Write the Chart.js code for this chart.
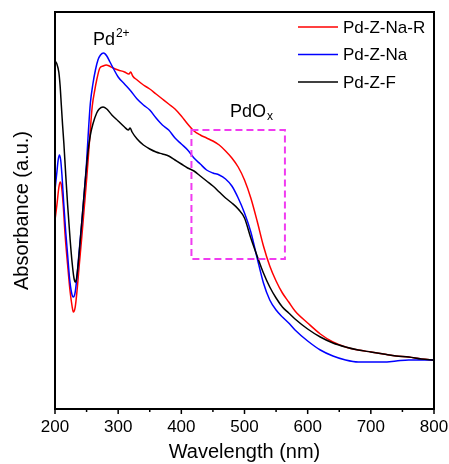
<!DOCTYPE html>
<html>
<head>
<meta charset="utf-8">
<script src="https://cdn.jsdelivr.net/npm/chart.js@4.4.0/dist/chart.umd.min.js"></script>
<style>
  html, body { margin: 0; padding: 0; background: #fff; }
  #wrap { width: 449px; height: 464px; }
</style>
</head>
<body>
<div id="wrap"><canvas id="uv"></canvas></div>
<script>
// Pd-Z-F (black)
const wlF = [200,203,206,208,210,212,214,217,220,224,227,230,232,234,237,240,244,248,252,256,260,266,270,276,282,290,300,310,316,319,322,330,340,350,360,370,380,390,400,410,420,430,440,450,460,470,480,490,500,510,520,530,540,550,560,570,580,600,620,640,660,680,700,720,740,760,780,800];
const absF = [3.48,3.45,3.37,3.24,3.04,2.84,2.66,2.34,2.04,1.69,1.47,1.31,1.27,1.30,1.47,1.69,1.99,2.29,2.56,2.74,2.85,2.96,3.00,3.02,3.00,2.94,2.88,2.82,2.79,2.81,2.77,2.70,2.64,2.60,2.57,2.55,2.53,2.49,2.45,2.41,2.38,2.33,2.28,2.23,2.17,2.11,2.06,2.00,1.91,1.71,1.53,1.36,1.22,1.11,1.02,0.96,0.90,0.80,0.72,0.66,0.62,0.59,0.57,0.55,0.53,0.52,0.50,0.49];

// Pd-Z-Na (blue)
const wlNa = [200,203,205,207,209,211,214,217,220,223,226,229,232,235,238,242,246,250,253,256,260,264,268,272,277,282,287,292,300,310,320,330,340,350,360,370,380,390,400,410,420,430,440,450,460,470,480,490,500,510,520,530,540,550,560,570,580,600,620,640,660,680,700,720,740,760,780,800];
const absNa = [2.19,2.37,2.49,2.54,2.49,2.34,2.04,1.77,1.54,1.31,1.17,1.12,1.17,1.34,1.56,1.84,2.14,2.47,2.79,3.06,3.25,3.39,3.49,3.54,3.56,3.53,3.47,3.41,3.32,3.25,3.18,3.10,3.04,2.99,2.91,2.84,2.79,2.71,2.65,2.59,2.51,2.45,2.39,2.36,2.34,2.30,2.23,2.11,1.96,1.77,1.51,1.26,1.09,0.99,0.92,0.86,0.79,0.68,0.59,0.53,0.49,0.47,0.47,0.47,0.48,0.49,0.49,0.49];

// Pd-Z-Na-R (red)
const wlNaR = [200,203,206,208,210,213,216,220,224,227,229,232,235,238,242,246,250,253,256,259,263,266,271,276,281,286,292,300,310,317,320,323,330,340,350,360,370,380,390,400,410,420,430,440,450,460,470,480,490,500,510,520,530,540,550,560,570,580,600,620,640,660,680,700,720,740,760,780,800];
const absNaR = [1.89,2.04,2.21,2.27,2.24,2.04,1.74,1.44,1.17,1.03,0.97,1.02,1.19,1.41,1.69,1.99,2.29,2.54,2.80,3.03,3.19,3.29,3.41,3.43,3.44,3.43,3.41,3.39,3.37,3.35,3.37,3.33,3.29,3.24,3.20,3.15,3.10,3.05,3.00,2.93,2.85,2.78,2.74,2.71,2.68,2.64,2.58,2.51,2.42,2.29,2.11,1.88,1.63,1.43,1.28,1.16,1.07,0.98,0.86,0.75,0.67,0.62,0.59,0.57,0.55,0.53,0.52,0.50,0.49];

const xTicks = [200, 300, 400, 500, 600, 700, 800];
const seriesNames = ['Pd-Z-Na-R', 'Pd-Z-Na', 'Pd-Z-F'];
const seriesColors = ['#ff0000', '#0000ff', '#000000'];

// PdOx region box [wl from, wl to, abs low, abs high]
const boxRegion = [416, 564, 1.50, 2.79];

const FONT = "'Liberation Sans', Arial, sans-serif";

function toPoints(xs, ys) {
  return xs.map((x, i) => ({ x: x, y: ys[i] }));
}

// frame, ticks, dashed box, labels and legend
const decorPlugin = {
  id: 'decor',
  afterDatasetsDraw(chart) {
    const ctx = chart.ctx;
    const area = chart.chartArea;
    const xs = chart.scales.x;
    const ys = chart.scales.y;
    ctx.save();

    // dashed PdOx box
    ctx.strokeStyle = '#f03cf0';
    ctx.lineWidth = 2;
    ctx.setLineDash([7, 4]);
    const bx1 = xs.getPixelForValue(boxRegion[0]);
    const bx2 = xs.getPixelForValue(boxRegion[1]);
    const by1 = ys.getPixelForValue(boxRegion[3]);
    const by2 = ys.getPixelForValue(boxRegion[2]);
    ctx.strokeRect(bx1, by1, bx2 - bx1, by2 - by1);
    ctx.setLineDash([]);

    // frame
    ctx.strokeStyle = '#000';
    ctx.lineWidth = 2;
    ctx.strokeRect(area.left, area.top, area.right - area.left, area.bottom - area.top);

    // bottom ticks, major every 100 and minor every 50
    ctx.lineWidth = 1.5;
    for (let v = 200; v <= 800; v += 50) {
      const px = xs.getPixelForValue(v);
      const len = (v % 100 === 0) ? 5 : 3;
      ctx.beginPath();
      ctx.moveTo(px, area.bottom);
      ctx.lineTo(px, area.bottom + len);
      ctx.stroke();
    }

    // peak labels
    ctx.fillStyle = '#000';
    ctx.textBaseline = 'alphabetic';
    ctx.textAlign = 'left';
    let px = xs.getPixelForValue(260);
    let py = ys.getPixelForValue(3.64);
    ctx.font = '18px ' + FONT;
    ctx.fillText('Pd', px, py);
    let w = ctx.measureText('Pd').width;
    ctx.font = '12px ' + FONT;
    ctx.fillText('2+', px + w + 1, py - 8);

    px = xs.getPixelForValue(477);
    py = ys.getPixelForValue(2.92);
    ctx.font = '18px ' + FONT;
    ctx.fillText('PdO', px, py);
    w = ctx.measureText('PdO').width;
    ctx.font = '12px ' + FONT;
    ctx.fillText('x', px + w + 1, py + 3);

    // legend
    ctx.font = '17px ' + FONT;
    ctx.textBaseline = 'middle';
    seriesNames.forEach((name, i) => {
      const ly = area.top + 15 + i * 27.5;
      ctx.strokeStyle = seriesColors[i];
      ctx.lineWidth = 1.5;
      ctx.beginPath();
      ctx.moveTo(area.right - 136, ly);
      ctx.lineTo(area.right - 96, ly);
      ctx.stroke();
      ctx.fillStyle = '#000';
      ctx.fillText(name, area.right - 91, ly + 1);
    });

    ctx.restore();
  }
};

const datasets = [
  { label: seriesNames[2], data: toPoints(wlF, absF), borderColor: seriesColors[2] },
  { label: seriesNames[1], data: toPoints(wlNa, absNa), borderColor: seriesColors[1] },
  { label: seriesNames[0], data: toPoints(wlNaR, absNaR), borderColor: seriesColors[0] }
].map(d => Object.assign(d, {
  borderWidth: 1.5,
  pointRadius: 0,
  cubicInterpolationMode: 'monotone',
  fill: false
}));

new Chart(document.getElementById('uv'), {
  type: 'line',
  data: { datasets: datasets },
  plugins: [decorPlugin],
  options: {
    responsive: true,
    maintainAspectRatio: false,
    animation: false,
    layout: { padding: { top: 12, right: 15, left: 0, bottom: 0 } },
    plugins: {
      legend: { display: false },
      tooltip: { enabled: false }
    },
    scales: {
      x: {
        type: 'linear',
        min: 200,
        max: 800,
        afterFit: function(scale) {
          scale.height = 55;
          scale.paddingLeft = 0;
          scale.paddingRight = 0;
        },
        afterBuildTicks: function(scale) {
          scale.ticks = xTicks.map(v => ({ value: v }));
        },
        grid: { display: false, drawTicks: false },
        border: { display: false },
        ticks: {
          color: '#000',
          padding: 8,
          maxRotation: 0,
          font: { family: FONT, size: 17 }
        },
        title: {
          display: true,
          text: 'Wavelength (nm)',
          color: '#000',
          padding: { top: 0, bottom: 0 },
          font: { family: FONT, size: 20 }
        }
      },
      y: {
        min: 0,
        max: 3.97,
        afterFit: function(scale) { scale.width = 55; },
        grid: { display: false, drawTicks: false },
        border: { display: false },
        ticks: { display: false },
        title: {
          display: true,
          text: 'Absorbance (a.u.)',
          color: '#000',
          padding: { top: 10, bottom: 0 },
          font: { family: FONT, size: 20 }
        }
      }
    }
  }
});
</script>
</body>
</html>
